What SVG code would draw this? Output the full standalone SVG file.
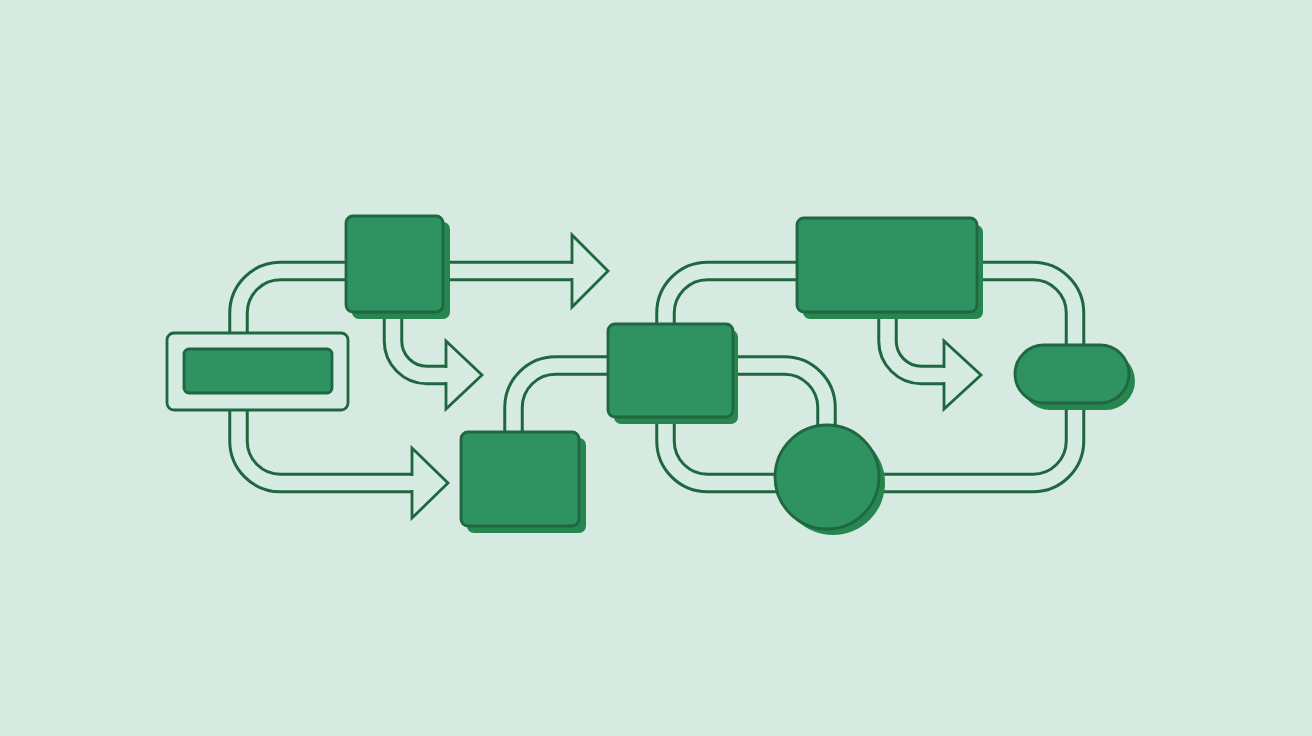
<svg xmlns="http://www.w3.org/2000/svg" width="1312" height="736" viewBox="0 0 1312 736">
<style>
.po{fill:none;stroke:#1e6741;stroke-width:20.5}
.pi{fill:none;stroke:#d6ebe1;stroke-width:14.5}
.head{fill:#d6ebe1;stroke:#1e6741;stroke-width:2.8;stroke-linejoin:miter;stroke-linecap:square}
.node{fill:#2e9261;stroke:#1e6741;stroke-width:2.8}
.shadow{fill:#27864f}
.frame{fill:#d6ebe1;stroke:#1e6741;stroke-width:2.8}
</style>
<rect x="0" y="0" width="1312" height="736" fill="#d6eae1"/>
<g id="connectors">
  <path class="po" d="M238.5,335 V313 A42,42 0 0 1 280.5,271 H350"/>
  <path class="pi" d="M238.5,336 V313 A42,42 0 0 1 280.5,271 H350"/>
  <path class="po" d="M440,271 H573"/>
  <path class="pi" d="M440,271 H574"/>
  <path class="head" d="M572,262.5 V235 L608,271 L572,307 V279.5"/>
  <path class="po" d="M393,310 V341 A34,34 0 0 0 427,375 H447"/>
  <path class="pi" d="M393,310 V341 A34,34 0 0 0 427,375 H448"/>
  <path class="head" d="M446,366.5 V341 L482,375 L446,409 V383.5"/>
  <path class="po" d="M238.5,408 V441 A42,42 0 0 0 280.5,483 H413"/>
  <path class="pi" d="M238.5,407 V441 A42,42 0 0 0 280.5,483 H414"/>
  <path class="head" d="M412,474.5 V448 L448,483 L412,518 V491.5"/>
  <path class="po" d="M513.5,434 V407.5 A42,42 0 0 1 555.5,365.5 H610"/>
  <path class="pi" d="M513.5,434 V407.5 A42,42 0 0 1 555.5,365.5 H610"/>
  <path class="po" d="M665.5,326 V313 A42,42 0 0 1 707.5,271 H799"/>
  <path class="pi" d="M665.5,326 V313 A42,42 0 0 1 707.5,271 H799"/>
  <path class="po" d="M731,365.5 H784.5 A42,42 0 0 1 826.5,407.5 V432"/>
  <path class="pi" d="M731,365.5 H784.5 A42,42 0 0 1 826.5,407.5 V432"/>
  <path class="po" d="M665.5,415 V441 A42,42 0 0 0 707.5,483 H780"/>
  <path class="pi" d="M665.5,415 V441 A42,42 0 0 0 707.5,483 H780"/>
  <path class="po" d="M975,271 H1033 A42,42 0 0 1 1075,313 V348"/>
  <path class="pi" d="M975,271 H1033 A42,42 0 0 1 1075,313 V348"/>
  <path class="po" d="M1075,400 V441 A42,42 0 0 1 1033,483 H875"/>
  <path class="pi" d="M1075,400 V441 A42,42 0 0 1 1033,483 H875"/>
  <path class="po" d="M887.5,310 V341 A34,34 0 0 0 921.5,375 H945"/>
  <path class="pi" d="M887.5,310 V341 A34,34 0 0 0 921.5,375 H946"/>
  <path class="head" d="M944,366.5 V341 L981,375 L944,409 V383.5"/>
</g>
<g id="node-left">
  <rect class="frame" x="167" y="333" width="181" height="77" rx="7"/>
  <rect class="node" x="184" y="349" width="148" height="44" rx="5"/>
</g>
<g id="node-top-square">
  <rect class="shadow" x="352" y="222" width="98" height="97" rx="7"/>
  <rect class="node" x="346" y="216" width="97" height="96" rx="7"/>
</g>
<g id="node-bottom-square">
  <rect class="shadow" x="467" y="438" width="119" height="95" rx="7"/>
  <rect class="node" x="461" y="432" width="118" height="94" rx="7"/>
</g>
<g id="node-middle">
  <rect class="shadow" x="614" y="330" width="124" height="94" rx="7"/>
  <rect class="node" x="608" y="324" width="125" height="93" rx="7"/>
</g>
<g id="node-top-right">
  <rect class="shadow" x="803" y="225" width="180" height="94" rx="7"/>
  <rect class="node" x="797" y="218" width="180" height="94" rx="7"/>
</g>
<g id="node-circle">
  <circle class="shadow" cx="833" cy="483" r="52"/>
  <circle class="node" cx="827" cy="477" r="52"/>
</g>
<g id="node-pill">
  <rect class="shadow" x="1021" y="352" width="114" height="58" rx="29"/>
  <rect class="node" x="1015" y="345" width="114" height="58" rx="29"/>
</g>
</svg>
